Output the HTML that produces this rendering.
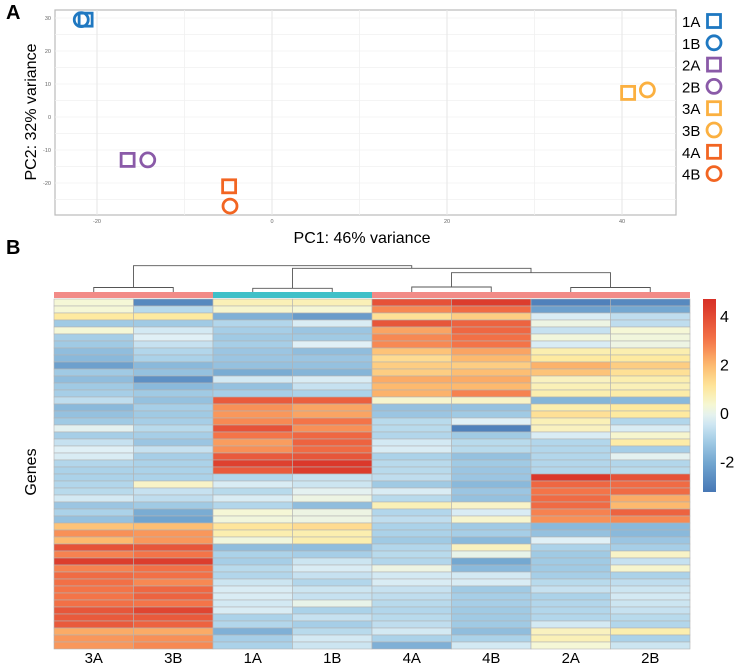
<!DOCTYPE html>
<html><head><meta charset="utf-8"><style>
html,body{margin:0;padding:0;background:#fff;}
svg{display:block;font-family:"Liberation Sans",sans-serif;}
</style></head><body>
<svg id="fig" width="738" height="665" viewBox="0 0 738 665">
<text x="6" y="19" font-size="20" font-weight="bold">A</text>
<text x="6" y="254" font-size="20" font-weight="bold">B</text>
<g id="pca"></g>
<g id="heat"></g>
</svg>
<script>
// ---- PCA data ----
const sampleNames = ["1A","1B","2A","2B","3A","3B","4A","4B"];
const pc1Values = [-21.3,-21.8,-16.5,-14.2,40.7,42.9,-4.9,-4.8];
const pc2Values = [29.5,29.5,-13,-13,7.3,8.2,-21,-27];
const sampleShapes = ["square","circle","square","circle","square","circle","square","circle"];
const xTickLabels = [-20,0,20,40];
const yTickLabels = [-20,-10,0,10,20,30];
// ---- Heatmap data ----
const heatColumns = ["3A","3B","1A","1B","4A","4B","2A","2B"];
const colorbarTicks = [4,2,0,-2];
const heatValues = [
[0.3,-2.8,0.7,0.7,3.8,4.3,-3,-2.8],
[0.3,-0.8,0.4,0.3,2.7,3.2,-2.2,-2],
[1,1,-1.8,-2.3,1.2,1.6,-0.3,-0.7],
[-1.2,-1.2,-0.9,-0.3,3.7,3.4,0.1,-0.7],
[0.3,-0.4,-1.1,-1.3,2.3,3.3,-0.6,0.3],
[-1.1,-0.2,-1.2,-1.2,2.7,3.1,0.2,0.2],
[-1.2,-0.6,-1.1,-0.2,2.7,3.0,-0.3,0.1],
[-1.5,-0.9,-1.3,-1.5,1.8,2.3,0.8,0.8],
[-1.6,-1.0,-1.3,-1.3,1.3,2.0,1.0,1.0],
[-2.2,-1.6,-1.4,-1.4,1.6,1.6,2.1,1.6],
[-1.2,-1.4,-1.9,-1.7,1.6,1.9,1.8,1.2],
[-1.5,-2.6,-0.4,-0.3,2.2,2.2,0.6,0.8],
[-1.2,-1.6,-1.4,-0.6,2.0,2.0,0.7,0.7],
[-1.1,-1.2,-1.1,-1.0,2.1,2.8,0.8,0.9],
[-0.7,-1.4,3.6,3.5,0.4,0.5,-1.7,-1.6],
[-1.6,-1.1,2.6,2.3,-1.4,-1.4,0.8,1.0],
[-1.4,-1.2,2.5,2.3,-1.3,-1.2,1.2,1.0],
[-1.2,-1.1,2.7,3.0,-0.8,-0.2,0.7,-0.9],
[-0.1,-0.8,3.8,2.6,-0.8,-3.0,0.6,-0.3],
[-1.1,-1.1,3.0,3.3,-0.9,-1.2,-0.3,0.4],
[-0.6,-1.3,2.4,3.4,-0.4,-0.8,-0.9,0.9],
[-0.2,-0.6,2.6,3.2,-0.3,-0.8,-0.9,-1.1],
[-0.3,-1.1,3.6,3.7,-1.0,-1.4,-0.9,-0.1],
[-0.9,-1.0,4.2,4.4,-0.8,-1.2,-0.9,-0.9],
[-1.0,-1.0,3.6,4.3,-0.8,-1.3,-0.9,-0.8],
[-1.0,-1.0,-0.9,-0.6,-0.7,-1.3,4.4,3.8],
[-0.9,0.5,-0.3,-0.5,-1.2,-1.6,3.3,3.2],
[-0.8,-0.6,-0.8,-0.1,-0.3,-1.3,3.0,3.2],
[-0.4,-0.7,-0.3,0.1,-0.8,-1.4,3.2,2.2],
[-1.3,-1.2,-0.9,-1.5,0.7,0.5,3.2,2.0],
[-1.0,-1.9,0.3,0.1,-0.9,-0.3,2.8,3.4],
[-1.4,-2.1,0.2,0.1,-0.7,0.4,2.6,2.7],
[1.8,1.9,1.1,1.3,-1.0,-1.2,-1.6,-1.6],
[2.6,2.5,0.8,0.8,-1.0,-1.1,-1.4,-1.6],
[2.0,2.5,0.2,0.8,-1.2,-1.6,-0.2,-1.3],
[3.8,3.7,-1.5,-1.5,-0.9,0.6,-1.0,-1.1],
[2.8,3.0,-1.0,-1.1,-0.8,0.0,-1.2,0.5],
[4.3,4.3,-1.1,-0.5,-0.9,-2.0,-1.2,-0.6],
[2.8,3.1,-0.8,-0.3,0.1,-1.6,-1.2,0.4],
[3.2,3.1,-0.9,-0.6,-0.4,-0.4,-1.1,-1.0],
[3.1,2.7,-0.5,-0.9,-0.3,-0.3,-0.8,-0.7],
[3.0,3.3,-0.3,-0.5,-0.6,-1.2,-0.6,-0.5],
[3.0,3.4,-0.3,-0.6,-0.7,-1.1,-1.0,-0.4],
[3.1,3.0,-0.4,0.0,-0.8,-1.1,-0.9,-0.5],
[3.7,4.1,-0.3,-1.0,-0.9,-1.2,-0.9,-0.6],
[3.6,3.6,-1.0,-0.6,-0.8,-1.2,-0.9,-0.8],
[3.6,3.4,-0.9,-1.1,-0.7,-1.2,-0.4,-0.9],
[2.2,2.2,-1.8,-0.8,-0.4,-1.5,0.6,0.8],
[2.5,2.6,-1.1,-0.4,-1.0,-1.0,0.7,-1.0],
[2.5,2.7,-1.0,-0.5,-1.8,-0.4,0.3,-0.5]
];
const groupColors = {"1":"#1f78c1","2":"#8a5aa8","3":"#fbb040","4":"#f26522"};
const annotColors = {"1":"#3fc0c8","2":"#f28b87","3":"#f28b87","4":"#f28b87"};

const NS="http://www.w3.org/2000/svg";
function mk(tag,attrs,parent){const e=document.createElementNS(NS,tag);for(const k in attrs)e.setAttribute(k,attrs[k]);parent.appendChild(e);return e;}

// ---- PCA ----
const pca=document.getElementById('pca');
const PX0=55,PX1=676,PY0=10,PY1=215;
const xs=v=>272+v*8.75, ys=v=>117-v*3.3;
const bg=mk('rect',{x:PX0,y:PY0,width:PX1-PX0,height:PY1-PY0,fill:'#fff',stroke:'#bbb','stroke-width':1.2},pca);


for(let v=-30;v<=50;v+=10){const x=xs(v);if(x>PX0&&x<PX1){const l=mk('line',{x1:x,x2:x,y1:PY0,y2:PY1,stroke:'#f0f0f0','stroke-width':0.8},pca);}}
for(let v=-35;v<=35;v+=5){const y=ys(v);if(y>PY0&&y<PY1){const l=mk('line',{x1:PX0,x2:PX1,y1:y,y2:y,stroke:'#f0f0f0','stroke-width':0.8},pca);}}
xTickLabels.forEach(v=>{const x=xs(v);
 const l=mk('line',{x1:x,x2:x,y1:PY0,y2:PY1,stroke:'#e6e6e6','stroke-width':1},pca);
 const t=mk('text',{x:x,y:PY1+8,'font-size':5.5,fill:'#666','text-anchor':'middle'},pca);t.textContent=v;});
yTickLabels.forEach(v=>{const y=ys(v);
 const t=mk('text',{x:PX0-4,y:y+2,'font-size':5.5,fill:'#666','text-anchor':'end'},pca);t.textContent=v;});
const xt=mk('text',{x:362,y:243,'font-size':16,'text-anchor':'middle'},pca);xt.textContent='PC1: 46% variance';
const yt=mk('text',{x:0,y:0,'font-size':16,'text-anchor':'middle',transform:'translate(36,112) rotate(-90)'},pca);yt.textContent='PC2: 32% variance';
function marker(shape,cx,cy,col,parent){
 if(shape==='square')return mk('rect',{x:cx-6.5,y:cy-6.5,width:13,height:13,fill:'none',stroke:col,'stroke-width':2.8},parent);
 return mk('circle',{cx:cx,cy:cy,r:7,fill:'none',stroke:col,'stroke-width':2.8},parent);
}
sampleNames.forEach((n,i)=>{const m=marker(sampleShapes[i],xs(pc1Values[i]),ys(pc2Values[i]),groupColors[n[0]],pca);
 });
sampleNames.forEach((n,i)=>{const y=21+i*21.8;
 const t=mk('text',{x:682,y:y+6,'font-size':15},pca);t.textContent=n;
 const m=marker(sampleShapes[i],714,y,groupColors[n[0]],pca);});

// ---- Heatmap ----
const heat=document.getElementById('heat');
const HX0=54,CW=79.5,HY0=299,RH=7;
const colX=i=>HX0+i*CW, colC=i=>HX0+(i+0.5)*CW;
const stops=[[-3.3,[69,117,180]],[-2,[116,168,209]],[-1,[171,210,233]],[-0.2,[224,240,246]],[0.3,[245,247,214]],[1,[254,234,160]],[2,[253,185,110]],[3,[244,116,72]],[4.6,[215,48,39]]];
function color(v){if(v<=stops[0][0])return 'rgb('+stops[0][1]+')';
 for(let i=1;i<stops.length;i++){if(v<=stops[i][0]){const a=stops[i-1],b=stops[i],t=(v-a[0])/(b[0]-a[0]);
  return 'rgb('+a[1].map((c,k)=>Math.round(c+(b[1][k]-c)*t)).join(',')+')';}}
 return 'rgb('+stops[stops.length-1][1]+')';}
heatValues.forEach((row,r)=>row.forEach((v,c)=>{
 const e=mk('rect',{x:colX(c),y:HY0+r*RH,width:CW,height:RH,fill:color(v),stroke:'#b3b3b3','stroke-width':0.6},heat);
 }));
heatColumns.forEach((n,c)=>{
 const a=mk('rect',{x:colX(c),y:292,width:CW,height:6,fill:annotColors[n[0]]},heat);
 const t=mk('text',{x:colC(c),y:663,'font-size':15,'text-anchor':'middle'},heat);t.textContent=n;});
// dendrogram
function link(xa,ya,xb,yb,ytop,name){const p=mk('path',{d:`M${xa},${ya}V${ytop}H${xb}V${yb}`,fill:'none',stroke:'#555','stroke-width':0.9},heat);}
const m01=(colC(0)+colC(1))/2,m23=(colC(2)+colC(3))/2,m45=(colC(4)+colC(5))/2,m67=(colC(6)+colC(7))/2;
link(colC(0),292,colC(1),292,287.5,'dendrogram-3');
link(colC(2),292,colC(3),292,288.3,'dendrogram-1');
link(colC(4),292,colC(5),292,287,'dendrogram-4');
link(colC(6),292,colC(7),292,287.5,'dendrogram-2');
const m4567=(m45+m67)/2;
link(m45,287,m67,287.5,272.7,'dendrogram-4-2');
const mB=(m23+m4567)/2;
link(m23,288.3,m4567,272.7,268.3,'dendrogram-1-4-2');
link(m01,287.5,mB,268.3,265.7,'dendrogram-root');
const gt=mk('text',{x:0,y:0,'font-size':16,'text-anchor':'middle',transform:'translate(36,472) rotate(-90)'},heat);gt.textContent='Genes';
// colorbar
const defs=mk('defs',{},heat);const lg=mk('linearGradient',{id:'cb',x1:0,y1:1,x2:0,y2:0},defs);
const CB0=492,CB1=299,cbv=v=>413-v*24.3;const vmin=(413-CB0)/24.3,vmax=(413-CB1)/24.3;
for(let i=0;i<=20;i++){const v=vmin+(vmax-vmin)*i/20;mk('stop',{offset:(i/20),'stop-color':color(v)},lg);}
const cb=mk('rect',{x:703,y:CB1,width:13,height:CB0-CB1,fill:'url(#cb)'},heat);
colorbarTicks.forEach(v=>{const t=mk('text',{x:720,y:cbv(v)+6,'font-size':16},heat);t.textContent=v;});
</script>
</body></html>
